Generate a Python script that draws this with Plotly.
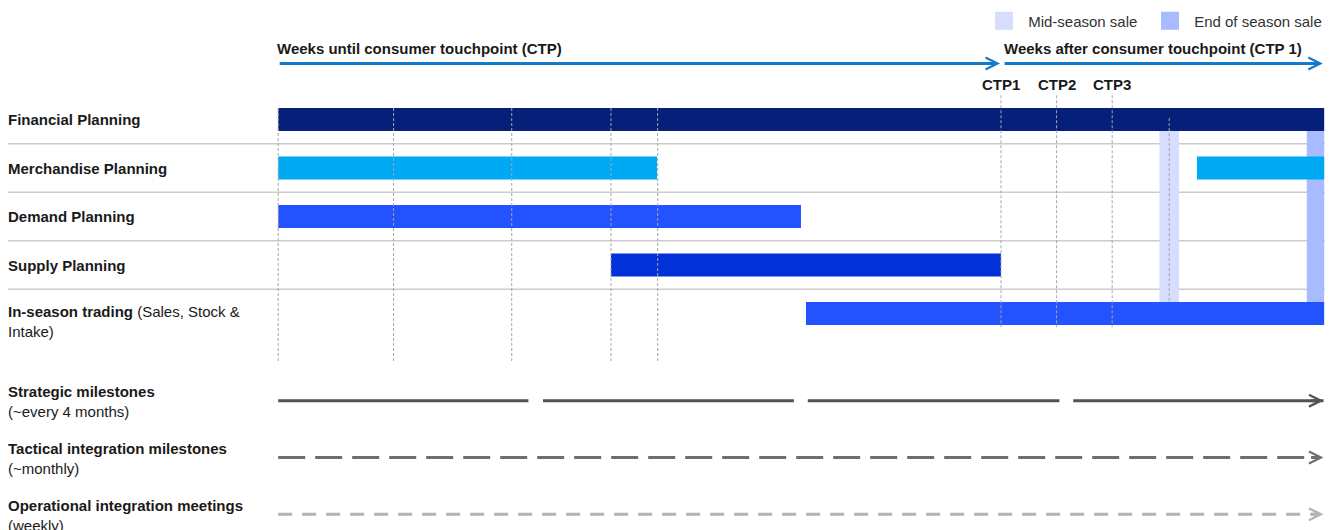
import plotly.graph_objects as go

# ---------------- data ----------------
# timeline in weeks relative to consumer touchpoint 1 (CTP1 = week 0)
timeline_start = -52
timeline_end = 23.25

task_names = ["Financial Planning", "Merchandise Planning", "Demand Planning",
              "Supply Planning", "In-season trading"]
task_labels = ["<b>Financial Planning</b>", "<b>Merchandise Planning</b>",
               "<b>Demand Planning</b>", "<b>Supply Planning</b>",
               "<b>In-season trading</b> (Sales, Stock &<br>Intake)"]

# activity bars (task index, start week, end week)
bar_task = [0, 1, 1, 2, 3, 4]
bar_start = [-52, -52, 14.1, -52, -28.06, -14.03]
bar_end = [23.25, -24.75, 23.25, -14.39, 0, 23.25]

guide_weeks = [-52, -43.7, -35.2, -28.06, -24.7]
ctp_weeks = [0, 4, 8]
ctp_labels = ["CTP1", "CTP2", "CTP3"]

sale_names = ["Mid-season sale", "End of season sale"]
sale_start = [11.4, 22.0]
sale_end = [12.8, 23.25]
mid_sale_week = 12.1

header_before = "Weeks until consumer touchpoint (CTP)"
header_after = "Weeks after consumer touchpoint (CTP 1)"

milestone_titles = ["Strategic milestones", "Tactical integration milestones",
                    "Operational integration meetings"]
milestone_subtitles = ["(~every 4 months)", "(~monthly)", "(weekly)"]
strategic_seg_start = [-52, -32.95, -13.9, 5.2]
strategic_seg_end = [-34.0, -14.9, 4.2, 23.2]
milestone_line_end = 23.2

# ---------------- style / layout ----------------
task_colors = {0: "#061f78", 1: "#00a9f4", 2: "#2352ff", 3: "#0230d9", 4: "#2352ff"}
sale_colors = ["#d6ddff", "#a9bbff"]
legend_item_widths = [121, 134]
milestone_colors = ["#525252", "#6e6e6e", "#b3b3b3"]
milestone_dash = ["solid", "27px,10px", "14px,10px"]
header_blue = "#1479c9"
text_color = "#1a1a1a"
FONT = "Liberation Sans, Arial, sans-serif"

W, H = 1330, 530
bar_w = 0.474
px_per_week = 13.9
week0_px = 1001              # CTP1 position on the figure
row0_px, row_px = 119.5, 48.5
ms0_px, ms_px = 400.7, 56.8


def py(p):
    """pixel from top -> paper y"""
    return 1 - p / H


fig = go.Figure()

# activity bars
fig.add_trace(go.Bar(
    orientation="h",
    y=bar_task,
    base=bar_start,
    x=[e - s for s, e in zip(bar_start, bar_end)],
    width=bar_w,
    marker=dict(color=[task_colors[t] for t in bar_task], line=dict(width=0)),
    showlegend=False, hoverinfo="skip",
))

# milestone lines (second y axis)
seg_x, seg_y = [], []
for s, e in zip(strategic_seg_start, strategic_seg_end):
    seg_x += [s, e, None]
    seg_y += [0, 0, None]
fig.add_trace(go.Scatter(x=seg_x, y=seg_y, mode="lines", yaxis="y2",
                         line=dict(color=milestone_colors[0], width=3),
                         showlegend=False, hoverinfo="skip"))
for i in (1, 2):
    fig.add_trace(go.Scatter(x=[timeline_start, milestone_line_end - 0.6], y=[i, i],
                             mode="lines", yaxis="y2",
                             line=dict(color=milestone_colors[i], width=3,
                                       dash=milestone_dash[i]),
                             showlegend=False, hoverinfo="skip"))

# legend entries for the sale periods
for name, col, lw in zip(sale_names, sale_colors, legend_item_widths):
    fig.add_trace(go.Scatter(x=[None], y=[None], mode="markers", name="\u00a0" + name,
                             legendwidth=lw,
                             marker=dict(symbol="square", size=16, color=col,
                                         line=dict(color=col, width=2))))

shapes = []
# sale bands
for s, e, col in zip(sale_start, sale_end, sale_colors):
    shapes.append(dict(type="rect", xref="x", yref="y", x0=s, x1=e,
                       y0=bar_w / 2, y1=4 - bar_w / 2,
                       fillcolor=col, line=dict(width=0), layer="below"))
# row separators
for k in range(len(task_names) - 1):
    shapes.append(dict(type="line", xref="paper", yref="y", x0=8 / W, x1=1325 / W,
                       y0=k + 0.5, y1=k + 0.5,
                       line=dict(color="#cccccc", width=1.5), layer="below"))
# dashed vertical guides
guide_line = dict(color="#a6a6a6", width=1, dash="3px,2px")
for wk in guide_weeks:
    shapes.append(dict(type="line", xref="x", yref="y", x0=wk, x1=wk,
                       y0=-bar_w / 2, y1=5.0, line=guide_line, layer="above"))
for wk in ctp_weeks:
    shapes.append(dict(type="line", xref="x", yref="y", x0=wk, x1=wk,
                       y0=-0.5, y1=4.28, line=guide_line, layer="above"))
shapes.append(dict(type="line", xref="x", yref="y", x0=mid_sale_week, x1=mid_sale_week,
                   y0=-0.03, y1=4 - bar_w / 2, line=guide_line, layer="above"))

ann = []
# row labels
for i, lab in enumerate(task_labels):
    ann.append(dict(x=8 / W, xref="paper", xanchor="left", xshift=-2, y=i, yref="y",
                    yanchor="middle", text=lab, showarrow=False, align="left",
                    yshift=-7.5 if "<br>" in lab else 0,
                    font=dict(size=15, color=text_color, family=FONT)))
# milestone labels + arrow heads
for i, (t, st) in enumerate(zip(milestone_titles, milestone_subtitles)):
    ann.append(dict(x=8 / W, xref="paper", xanchor="left", xshift=-2, y=i, yref="y2",
                    yanchor="middle", text=f"<b>{t}</b><br>{st}", showarrow=False,
                    align="left", yshift=-1,
                    font=dict(size=15, color=text_color, family=FONT)))
    ann.append(dict(x=milestone_line_end, y=i, xref="x", yref="y2",
                    ax=milestone_line_end - 1.0, ay=i, axref="x", ayref="y2",
                    text="", showarrow=True, arrowhead=5, arrowsize=0.78,
                    arrowwidth=3, arrowcolor=milestone_colors[i], standoff=0))
# header texts & arrows
hdr_y = py(49)
arr_y = py(63.5)
ann.append(dict(x=timeline_start, xref="x", xanchor="left", y=hdr_y, yref="paper",
                yanchor="middle", text=f"<b>{header_before}</b>", showarrow=False,
                xshift=-3, font=dict(size=15, color=text_color, family=FONT)))
ann.append(dict(x=ctp_weeks[0], xref="x", xanchor="left", y=hdr_y, yref="paper",
                yanchor="middle", text=f"<b>{header_after}</b>", showarrow=False,
                xshift=1, font=dict(size=15, color=text_color, family=FONT)))
ann.append(dict(x=ctp_weeks[0] - 0.07, y=arr_y, xref="x", yref="paper",
                ax=timeline_start, ay=0, axref="x", ayref="pixel",
                text="", showarrow=True, arrowhead=5, arrowsize=0.78,
                arrowwidth=3, arrowcolor=header_blue, standoff=0))
ann.append(dict(x=timeline_end - 0.1, y=arr_y, xref="x", yref="paper",
                ax=ctp_weeks[0] + 0.15, ay=0, axref="x", ayref="pixel",
                text="", showarrow=True, arrowhead=5, arrowsize=0.78,
                arrowwidth=3, arrowcolor=header_blue, standoff=0))
# CTP labels
for wk, lab in zip(ctp_weeks, ctp_labels):
    ann.append(dict(x=wk, xref="x", y=py(84.5), yref="paper", yanchor="middle",
                    text=f"<b>{lab}</b>", showarrow=False,
                    font=dict(size=15, color=text_color, family=FONT)))

fig.update_layout(
    width=W, height=H, autosize=False,
    margin=dict(l=0, r=0, t=0, b=0, pad=0, autoexpand=False),
    paper_bgcolor="white", plot_bgcolor="white",
    barmode="overlay",
    font=dict(family=FONT, size=15, color=text_color),
    xaxis=dict(range=[-week0_px / px_per_week, (W - week0_px) / px_per_week],
               visible=False, fixedrange=True),
    yaxis=dict(range=[(H - row0_px) / row_px, -row0_px / row_px],
               visible=False, fixedrange=True),
    yaxis2=dict(range=[(H - ms0_px) / ms_px, -ms0_px / ms_px], overlaying="y",
                visible=False, fixedrange=True),
    shapes=shapes, annotations=ann,
    showlegend=True,
    legend=dict(orientation="h", x=984 / W, xanchor="left", y=py(21),
                yanchor="middle", font=dict(size=15, color="#333333", family=FONT),
                bgcolor="rgba(0,0,0,0)", itemclick=False, itemdoubleclick=False,
                entrywidthmode="pixels", tracegroupgap=0),
)

fig.write_html(
    "out.html",
    config={"displayModeBar": False},
    post_script="document.body.style.margin='0';document.body.style.overflow='hidden';",
)
